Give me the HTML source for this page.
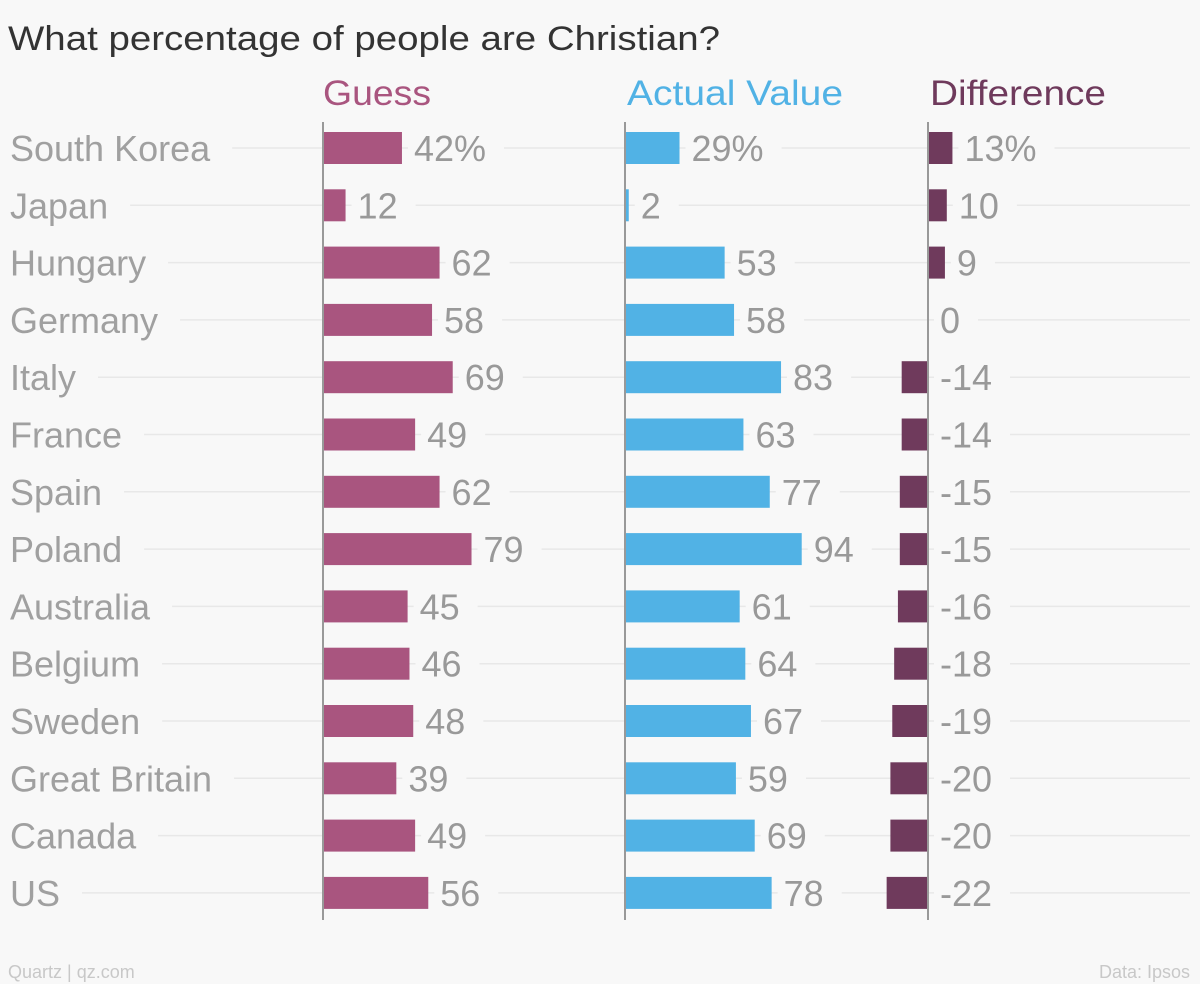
<!DOCTYPE html>
<html><head><meta charset="utf-8"><style>
html,body{margin:0;padding:0;background:#f8f8f8;}
svg{display:block;font-family:"Liberation Sans",sans-serif;}
</style></head><body>
<svg id="chart" width="1200" height="984" viewBox="0 0 1200 984">
<rect x="0" y="0" width="1200" height="984" fill="#f8f8f8"/>
<text x="8" y="50" font-size="34" fill="#333" textLength="712" lengthAdjust="spacingAndGlyphs">What percentage of people are Christian?</text>
<text x="323" y="105" font-size="35" fill="#a9557f" textLength="108" lengthAdjust="spacingAndGlyphs">Guess</text>
<text x="627" y="105" font-size="35" fill="#51b2e5" textLength="216" lengthAdjust="spacingAndGlyphs">Actual Value</text>
<text x="930" y="105" font-size="35" fill="#6f3a5c" textLength="176" lengthAdjust="spacingAndGlyphs">Difference</text>
<g id="grid"></g><g id="marks"></g>
<text x="8" y="978" font-size="18" fill="#c8c8c8">Quartz | qz.com</text>
<text x="1190" y="978" font-size="18" fill="#c8c8c8" text-anchor="end">Data: Ipsos</text>
</svg>
<script>
const countries=["South Korea","Japan","Hungary","Germany","Italy","France","Spain","Poland","Australia","Belgium","Sweden","Great Britain","Canada","US"];
const guess=[42,12,62,58,69,49,62,79,45,46,48,39,49,56];
const actual=[29,2,53,58,83,63,77,94,61,64,67,59,69,78];
const diff=[13,10,9,0,-14,-14,-15,-15,-16,-18,-19,-20,-20,-22];
const NS="http://www.w3.org/2000/svg";
const grid=document.getElementById('grid'),marks=document.getElementById('marks');
const k=1.88, rowY=i=>148+i*57.3, barH=32;
const axes=[323,625,928];
const cols=[{v:guess,c:"#a9557f",n:"guess"},{v:actual,c:"#51b2e5",n:"actual"},{v:diff,c:"#6f3a5c",n:"difference"}];
function mk(tag,attrs,parent){const e=document.createElementNS(NS,tag);for(const a in attrs)e.setAttribute(a,attrs[a]);parent.appendChild(e);return e;}
countries.forEach((name,i)=>{
  const y=rowY(i);
  const t=mk('text',{x:10,y:y+13,'font-size':36,fill:'#a0a0a0'},marks);
  t.textContent=name;
  
  
  const w=t.getComputedTextLength();
  const g=mk('line',{x1:10+w+22,x2:1190,y1:y,y2:y,stroke:'#e8e8e8','stroke-width':1.5},grid);
  
  
  cols.forEach((col,j)=>{
    const v=col.v[i], x0=axes[j], len=Math.abs(v)*k;
    const bx=v>=0?x0:x0-len;
    if(v!==0){
      const r=mk('rect',{x:bx,y:y-barH/2,width:len,height:barH,fill:col.c},marks);
      
      
    }
    const lx=(v>0?x0+len:x0)+12;
    const txt=(i===0?v+'%':String(v));
    const bg=mk('rect',{x:lx-6,y:y-20,width:txt.length*19+12,height:40,fill:'#f8f8f8'},marks);
    
    
    const lt=mk('text',{x:lx,y:y+13,'font-size':36,fill:'#999'},marks);
    lt.textContent=txt;
    
    
    bg.setAttribute('width',lt.getComputedTextLength()+24);
  });
});
axes.forEach(x=>{
  const l=mk('line',{x1:x,x2:x,y1:122,y2:920,stroke:'#999','stroke-width':2},marks);
  
  
});
</script>
</body></html>
